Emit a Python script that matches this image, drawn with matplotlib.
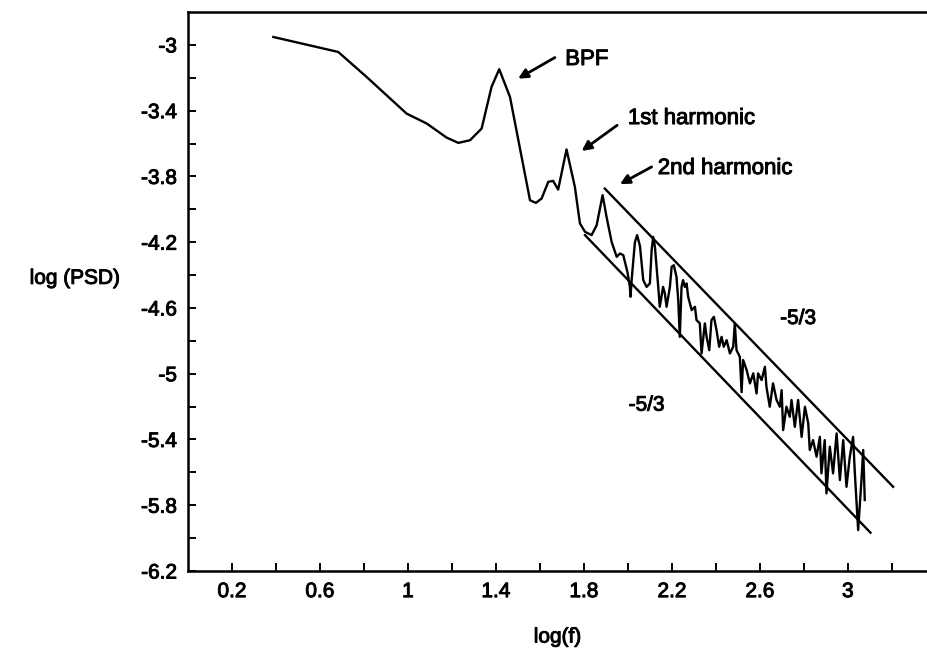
import numpy as np
import matplotlib
matplotlib.use("Agg")
import matplotlib.pyplot as plt
import matplotlib.patheffects as pe
from matplotlib.ticker import FixedLocator, FuncFormatter

plt.rcParams["font.family"] = ["Liberation Sans", "DejaVu Sans"]
plt.rcParams["axes.unicode_minus"] = False

# Spectrum: log10 frequency vs log10 power spectral density
log_f = [
    0.388, 0.683, 0.812, 0.994, 1.085, 1.176, 1.229, 1.282, 1.335, 1.380,
    1.415, 1.464, 1.555, 1.582, 1.608, 1.638, 1.660, 1.683, 1.721, 1.759,
    1.782, 1.805, 1.835, 1.858, 1.885, 1.903, 1.926, 1.949, 1.964, 1.979,
    1.998, 2.009, 2.012, 2.017, 2.032, 2.042, 2.055, 2.070, 2.085, 2.100,
    2.108, 2.115, 2.123, 2.138, 2.145, 2.160, 2.168, 2.176, 2.191, 2.199,
    2.209, 2.221, 2.229, 2.236, 2.244, 2.251, 2.259, 2.267, 2.274, 2.290,
    2.305, 2.312, 2.327, 2.335, 2.350, 2.358, 2.370, 2.380, 2.391, 2.403,
    2.415, 2.426, 2.436, 2.449, 2.464, 2.479, 2.486, 2.494, 2.509, 2.517,
    2.524, 2.540, 2.555, 2.570, 2.585, 2.592, 2.608, 2.623, 2.630, 2.645,
    2.660, 2.676, 2.691, 2.699, 2.706, 2.721, 2.736, 2.744, 2.759, 2.774,
    2.790, 2.805, 2.820, 2.827, 2.842, 2.858, 2.873, 2.880, 2.895, 2.903,
    2.918, 2.933, 2.949, 2.964, 2.979, 2.994, 3.009, 3.024, 3.032, 3.047,
    3.062, 3.070, 3.077,
]
log_psd = [
    -2.952, -3.043, -3.195, -3.418, -3.478, -3.564, -3.596, -3.580, -3.509, -3.256,
    -3.148, -3.317, -3.945, -3.961, -3.934, -3.833, -3.827, -3.880, -3.636, -3.864,
    -4.086, -4.137, -4.157, -4.097, -3.914, -4.046, -4.198, -4.289, -4.269, -4.279,
    -4.382, -4.472, -4.532, -4.431, -4.200, -4.157, -4.224, -4.431, -4.472, -4.451,
    -4.249, -4.168, -4.229, -4.472, -4.593, -4.472, -4.512, -4.593, -4.472, -4.350,
    -4.340, -4.411, -4.553, -4.776, -4.472, -4.431, -4.472, -4.451, -4.532, -4.613,
    -4.593, -4.674, -4.694, -4.877, -4.694, -4.776, -4.857, -4.674, -4.654, -4.735,
    -4.836, -4.776, -4.836, -4.796, -4.877, -4.836, -4.694, -4.857, -4.897, -5.112,
    -4.917, -4.978, -5.059, -4.998, -5.120, -4.998, -5.039, -4.958, -5.080, -5.201,
    -5.059, -5.160, -5.201, -5.100, -5.343, -5.201, -5.262, -5.160, -5.323, -5.160,
    -5.384, -5.201, -5.302, -5.464, -5.404, -5.505, -5.384, -5.606, -5.404, -5.728,
    -5.444, -5.606, -5.363, -5.647, -5.404, -5.688, -5.505, -5.384, -5.606, -5.951,
    -5.647, -5.464, -5.768,
]

# Reference slope lines bracketing the inertial range
upper_ref_x = [1.895, 3.206]
upper_ref_y = [-3.874, -5.688]
lower_ref_x = [1.805, 3.103]
lower_ref_y = [-4.157, -5.967]
slope_label = "-5/3"

x_major = [0.2, 0.6, 1.0, 1.4, 1.8, 2.2, 2.6, 3.0]
x_minor = [0.4, 0.8, 1.2, 1.6, 2.0, 2.4, 2.8, 3.2]
y_major = [-6.2, -5.8, -5.4, -5.0, -4.6, -4.2, -3.8, -3.4, -3.0]
y_minor = [-6.0, -5.6, -5.2, -4.8, -4.4, -4.0, -3.6, -3.2]

# slightly heavier glyph strokes, like print-weight Helvetica
ink = [pe.withStroke(linewidth=0.7, foreground="black")]

fig = plt.figure(figsize=(9.27, 6.54), dpi=100)
ax = fig.add_axes([188 / 927, 83 / 654, 1 - 188 / 927, 559 / 654])

ax.plot(log_f, log_psd, color="black", lw=1.7, solid_joinstyle="round")
ax.plot(upper_ref_x, upper_ref_y, color="black", lw=1.7)
ax.plot(lower_ref_x, lower_ref_y, color="black", lw=1.7)

ax.set_xlim(0, 3.36)
ax.set_ylim(-6.2, -2.8)

ax.xaxis.set_major_locator(FixedLocator(x_major))
ax.xaxis.set_minor_locator(FixedLocator(x_minor))
ax.yaxis.set_major_locator(FixedLocator(y_major))
ax.yaxis.set_minor_locator(FixedLocator(y_minor))
fmt = FuncFormatter(lambda v, p: f"{v:g}")
ax.xaxis.set_major_formatter(fmt)
ax.yaxis.set_major_formatter(fmt)

ax.tick_params(which="both", direction="in", length=6, width=1.4,
               labelsize=15, top=False, right=False)
ax.tick_params(axis="x", pad=8)
ax.tick_params(axis="y", pad=8)
for lab in ax.get_xticklabels() + ax.get_yticklabels():
    lab.set_path_effects(ink)

for side in ("left", "bottom", "top"):
    ax.spines[side].set_linewidth(1.8)
ax.spines["right"].set_visible(False)

xl = ax.set_xlabel("log(f)", fontsize=15, labelpad=19)
xl.set_path_effects(ink)
ax.text(-0.514, -4.42, "log (PSD)", fontsize=15, ha="center", va="center",
        transform=ax.transData, clip_on=False, path_effects=ink)

arrow = dict(arrowstyle="-|>", color="black", lw=2.0, mutation_scale=14,
             shrinkA=0, shrinkB=0)
ax.annotate("", xy=(1.501, -3.205), xytext=(1.668, -3.077), arrowprops=arrow)
ax.text(1.715, -3.089, "BPF", fontsize=16, ha="left", va="center",
        path_effects=ink)
ax.annotate("", xy=(1.790, -3.645), xytext=(1.951, -3.489), arrowprops=arrow)
ax.text(2.000, -3.448, "1st harmonic", fontsize=16, ha="left", va="center",
        path_effects=ink)
ax.annotate("", xy=(1.964, -3.847), xytext=(2.108, -3.742), arrowprops=arrow)
ax.text(2.136, -3.752, "2nd harmonic", fontsize=16, ha="left", va="center",
        path_effects=ink)

ax.text(2.774, -4.664, slope_label, fontsize=15, ha="center", va="center",
        path_effects=ink)
ax.text(2.085, -5.191, slope_label, fontsize=15, ha="center", va="center",
        path_effects=ink)

fig.savefig("out.png", dpi=100)
